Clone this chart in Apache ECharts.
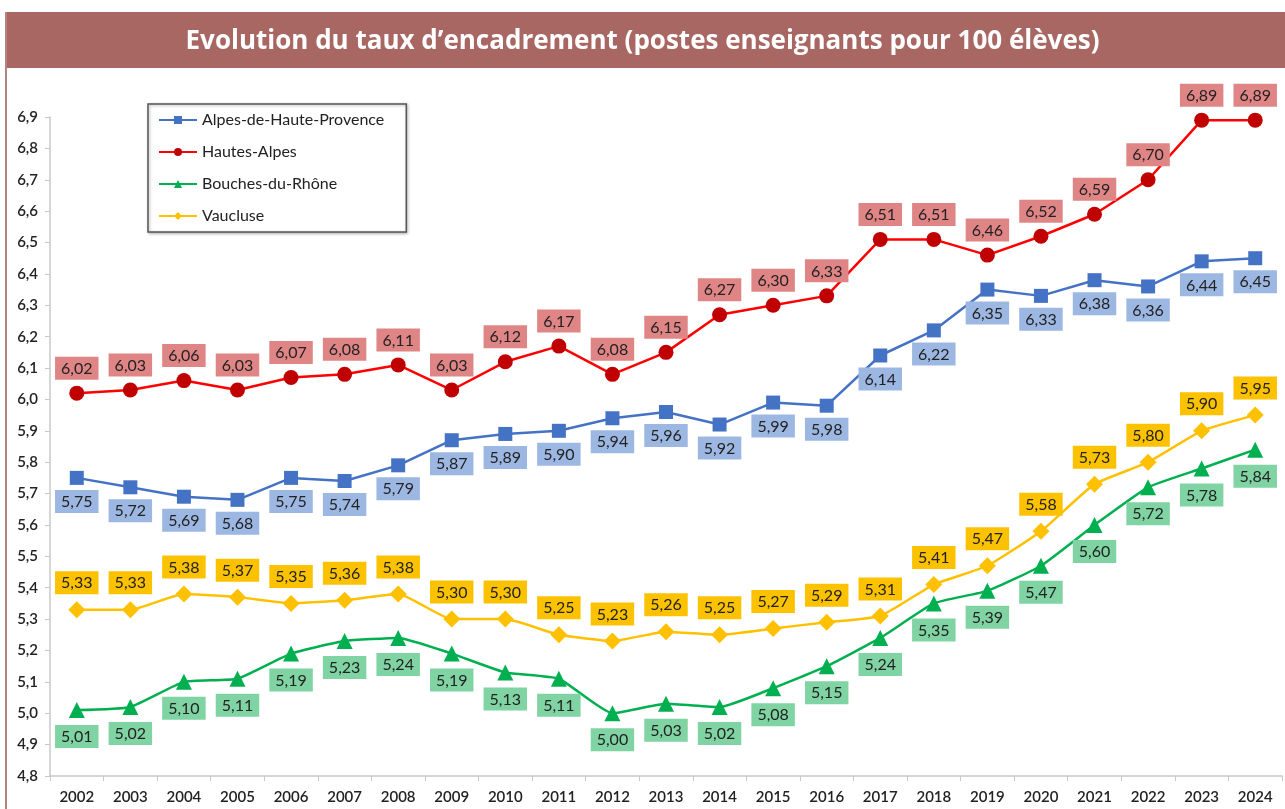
<!DOCTYPE html>
<html>
<head>
<meta charset="utf-8">
<script src="https://cdn.jsdelivr.net/npm/echarts@6/dist/echarts.min.js"></script>
<style>
  html, body { margin: 0; padding: 0; background: #fff; }
  #chart { width: 1285px; height: 809px; }
</style>
</head>
<body>
<div id="chart"></div>
<script>
// années
const years = ["2002","2003","2004","2005","2006","2007","2008","2009","2010","2011","2012","2013","2014","2015","2016","2017","2018","2019","2020","2021","2022","2023","2024"];

// taux d'encadrement par département
const alpesHauteProvence = [5.75,5.72,5.69,5.68,5.75,5.74,5.79,5.87,5.89,5.90,5.94,5.96,5.92,5.99,5.98,6.14,6.22,6.35,6.33,6.38,6.36,6.44,6.45];
const hautesAlpes = [6.02,6.03,6.06,6.03,6.07,6.08,6.11,6.03,6.12,6.17,6.08,6.15,6.27,6.30,6.33,6.51,6.51,6.46,6.52,6.59,6.70,6.89,6.89];
const bouchesDuRhone = [5.01,5.02,5.10,5.11,5.19,5.23,5.24,5.19,5.13,5.11,5.00,5.03,5.02,5.08,5.15,5.24,5.35,5.39,5.47,5.60,5.72,5.78,5.84];
const vaucluse = [5.33,5.33,5.38,5.37,5.35,5.36,5.38,5.30,5.30,5.25,5.23,5.26,5.25,5.27,5.29,5.31,5.41,5.47,5.58,5.73,5.80,5.90,5.95];

const FONT = "Lato, 'Open Sans', sans-serif";
const fr2 = v => v.toFixed(2).replace(".", ",");

// étiquette avec fond coloré
function lbl(pos, bg, dist) {
  return {
    show: true,
    position: pos,
    distance: dist,
    formatter: p => fr2(p.value),
    backgroundColor: bg,
    color: "#222",
    fontFamily: FONT,
    fontSize: 16,
    padding: [4, 6, 3, 6]
  };
}

function mkSeries(name, data, lineColor, markColor, symbol, size, pos, bg, dist, smooth) {
  return {
    name: name,
    type: "line",
    data: data,
    symbol: symbol,
    symbolSize: size,
    smooth: smooth,
    lineStyle: { color: lineColor, width: 2.5 },
    itemStyle: { color: markColor },
    label: lbl(pos, bg, dist),
    z: 3
  };
}

const chart = echarts.init(document.getElementById("chart"));

const option = {
  backgroundColor: "#fff",
  animation: false,
  graphic: [
    { type: "rect", shape: { x: 5, y: 12, width: 1285, height: 56 }, style: { fill: "#a86762" }, z: 10 },
    { type: "rect", shape: { x: 5, y: 12, width: 2, height: 800 }, style: { fill: "#b88080" }, z: 10 },
    {
      type: "text", left: "center", top: 29, z: 11,
      style: { text: "Evolution du taux d’encadrement (postes enseignants pour 100 élèves)", fill: "#fff", font: "bold 26px 'Open Sans', sans-serif" }
    }
  ],
  legend: {
    orient: "vertical",
    left: 148,
    top: 104,
    padding: [8, 22, 8, 10],
    itemGap: 16,
    itemWidth: 38,
    itemHeight: 10,
    borderColor: "#555",
    borderWidth: 1.5,
    shadowColor: "rgba(0,0,0,0.3)",
    shadowBlur: 3,
    shadowOffsetX: 1,
    shadowOffsetY: 1,
    backgroundColor: "#fff",
    textStyle: { fontFamily: FONT, fontSize: 16, color: "#222" }
  },
  grid: { left: 50, right: 3, top: 117, bottom: 33 },
  xAxis: {
    type: "category",
    data: years,
    boundaryGap: true,
    axisLine: { lineStyle: { color: "#c8c8c8", width: 1.5 } },
    axisTick: { show: true, lineStyle: { color: "#c8c8c8" } },
    axisLabel: { color: "#222", fontFamily: FONT, fontSize: 15, fontWeight: 600, margin: 14 }
  },
  yAxis: {
    type: "value",
    min: 4.8,
    max: 6.9,
    interval: 0.1,
    splitLine: { show: false },
    axisLine: { show: true, lineStyle: { color: "#c8c8c8", width: 1.5 } },
    axisTick: { show: true, length: 5, lineStyle: { color: "#c8c8c8" } },
    axisLabel: {
      color: "#222", fontFamily: FONT, fontSize: 15, fontWeight: 600, margin: 12,
      formatter: v => v.toFixed(1).replace(".", ",")
    }
  },
  series: [
    mkSeries("Alpes-de-Haute-Provence", alpesHauteProvence, "#4472c4", "#4472c4", "rect", 14, "bottom", "#9db7e3", 5, false),
    mkSeries("Hautes-Alpes", hautesAlpes, "#ff0000", "#c00000", "circle", 15, "top", "#e08585", 6, false),
    mkSeries("Bouches-du-Rhône", bouchesDuRhone, "#00b050", "#00b050", "triangle", 16, "bottom", "#80d3a2", 7, 0.15),
    mkSeries("Vaucluse", vaucluse, "#ffc000", "#ffc000", "diamond", 17, "top", "#fcc200", 7, 0.15)
  ]
};

chart.setOption(option);
</script>
</body>
</html>
